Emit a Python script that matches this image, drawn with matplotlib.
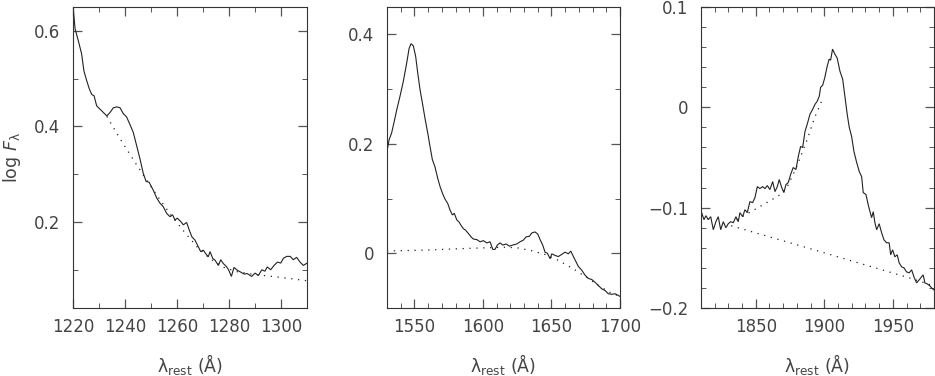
import matplotlib
matplotlib.use("Agg")
import matplotlib.pyplot as plt
from matplotlib.ticker import MultipleLocator, FuncFormatter

# ---------------- data: panel 1 (Ly-alpha / N V region) ----------------
wl1 = [1220.1, 1220.8, 1222.0, 1223.3, 1224.2, 1225.3, 1226.3, 1227.2, 1228.1, 1229.1,
       1230.4, 1231.7, 1233.0, 1234.2, 1235.5, 1236.8, 1238.1, 1239.3, 1240.6, 1241.9,
       1243.2, 1244.5, 1245.8, 1247.0, 1248.1, 1249.3, 1250.9, 1252.2, 1253.5, 1254.7,
       1256.0, 1257.3, 1258.3, 1259.2, 1260.1, 1261.4, 1262.4, 1263.7, 1264.7, 1265.7,
       1266.9, 1268.2, 1269.1, 1270.1, 1271.0, 1272.0, 1272.7, 1273.7, 1274.6, 1275.9,
       1276.8, 1277.8, 1279.1, 1279.9, 1280.9, 1281.9, 1283.2, 1284.5, 1285.8, 1287.0,
       1288.7, 1290.0, 1291.3, 1292.6, 1293.8, 1294.7, 1296.0, 1297.3, 1298.6, 1299.9,
       1300.9, 1302.2, 1303.5, 1304.7, 1306.0, 1307.3, 1308.6, 1310.0]
flux1 = [0.646, 0.604, 0.580, 0.552, 0.516, 0.495, 0.478, 0.467, 0.464, 0.443,
         0.436, 0.429, 0.422, 0.429, 0.439, 0.441, 0.439, 0.427, 0.420, 0.404,
         0.387, 0.359, 0.331, 0.302, 0.285, 0.283, 0.266, 0.250, 0.239, 0.232,
         0.218, 0.211, 0.215, 0.204, 0.208, 0.201, 0.194, 0.199, 0.183, 0.169,
         0.162, 0.148, 0.138, 0.141, 0.134, 0.127, 0.138, 0.124, 0.120, 0.109,
         0.121, 0.113, 0.106, 0.099, 0.086, 0.105, 0.099, 0.095, 0.091, 0.092,
         0.086, 0.093, 0.088, 0.100, 0.097, 0.106, 0.100, 0.109, 0.116, 0.114,
         0.124, 0.128, 0.128, 0.121, 0.126, 0.116, 0.109, 0.114]
cwl1 = [1233, 1238, 1243, 1248, 1253, 1258, 1263, 1268, 1273, 1278, 1283, 1290, 1300, 1310]
cont1 = [0.421, 0.375, 0.332, 0.290, 0.250, 0.212, 0.178, 0.146, 0.122, 0.105, 0.096,
         0.090, 0.084, 0.077]

# ---------------- data: panel 2 (C IV region) ----------------
wl2 = [1529.8, 1531.5, 1533.4, 1535.3, 1537.1, 1539.5, 1541.9, 1544.4, 1546.1, 1547.5,
       1549.2, 1550.9, 1552.4, 1554.1, 1555.8, 1557.7, 1559.7, 1561.4, 1563.1, 1565.0,
       1567.0, 1568.7, 1570.4, 1572.3, 1574.3, 1576.0, 1577.7, 1579.1, 1580.9, 1582.6,
       1584.0, 1585.7, 1587.4, 1589.4, 1591.3, 1593.0, 1595.5, 1597.9, 1600.3, 1602.8,
       1605.2, 1607.2, 1608.8, 1610.5, 1612.5, 1614.5, 1616.9, 1619.3, 1621.8, 1624.7,
       1627.1, 1629.5, 1631.5, 1633.9, 1635.6, 1638.0, 1640.0, 1641.7, 1643.6, 1645.3,
       1647.0, 1649.0, 1650.2, 1652.6, 1655.0, 1657.5, 1659.9, 1662.3, 1664.1, 1666.0,
       1668.0, 1669.6, 1672.1, 1674.5, 1676.9, 1679.4, 1681.8, 1684.2, 1686.7, 1689.1,
       1691.5, 1694.0, 1696.4, 1698.8, 1700.0]
flux2 = [0.183, 0.207, 0.220, 0.241, 0.262, 0.287, 0.314, 0.348, 0.374, 0.383,
         0.379, 0.360, 0.330, 0.299, 0.275, 0.247, 0.220, 0.195, 0.171, 0.158,
         0.137, 0.122, 0.110, 0.099, 0.091, 0.079, 0.070, 0.073, 0.061, 0.057,
         0.051, 0.045, 0.042, 0.036, 0.030, 0.026, 0.025, 0.021, 0.023, 0.019,
         0.021, 0.007, 0.007, 0.015, 0.019, 0.015, 0.017, 0.013, 0.015, 0.017,
         0.021, 0.024, 0.030, 0.031, 0.037, 0.039, 0.035, 0.025, 0.015, 0.002,
         0.000, -0.010, -0.001, -0.004, -0.006, -0.002, 0.002, -0.001, 0.004, -0.006,
         -0.016, -0.024, -0.031, -0.040, -0.046, -0.048, -0.053, -0.059, -0.065, -0.068,
         -0.074, -0.075, -0.074, -0.077, -0.079]
cwl2 = [1530, 1560, 1590, 1615, 1625, 1635, 1645, 1655, 1665, 1675, 1685, 1693, 1700]
cont2 = [0.004, 0.006, 0.009, 0.011, 0.010, 0.005, -0.002, -0.013, -0.027, -0.043,
         -0.060, -0.072, -0.079]

# ---------------- data: panel 3 (C III] region) ----------------
wl3 = [1810.5, 1812.2, 1813.6, 1815.3, 1817.1, 1819.0, 1820.9, 1822.6, 1824.4, 1826.3,
       1828.2, 1829.9, 1831.7, 1833.6, 1835.5, 1837.2, 1838.4, 1840.4, 1842.1, 1843.8,
       1845.7, 1847.7, 1849.4, 1851.1, 1853.0, 1855.0, 1856.7, 1858.4, 1860.3, 1862.3,
       1864.0, 1865.7, 1867.1, 1868.9, 1870.5, 1872.0, 1873.7, 1875.4, 1877.3, 1879.3,
       1881.0, 1882.7, 1884.2, 1885.9, 1887.5, 1889.5, 1891.5, 1893.2, 1894.8, 1896.3,
       1897.3, 1898.8, 1900.4, 1902.1, 1903.5, 1904.6, 1906.0, 1907.7, 1909.4, 1911.4,
       1913.4, 1915.0, 1916.7, 1918.2, 1919.9, 1921.6, 1923.6, 1925.5, 1927.2, 1928.4,
       1930.4, 1932.0, 1933.3, 1934.5, 1935.7, 1936.9, 1938.2, 1940.0, 1941.8, 1943.5,
       1945.4, 1947.3, 1948.4, 1949.8, 1951.5, 1953.2, 1954.6, 1956.4, 1958.1, 1960.0,
       1961.9, 1963.7, 1965.4, 1967.3, 1969.2, 1970.9, 1972.1, 1973.4, 1975.1, 1977.0,
       1979.0, 1980.0]
flux3 = [-0.105, -0.112, -0.108, -0.112, -0.109, -0.122, -0.114, -0.109, -0.122, -0.114,
         -0.120, -0.116, -0.114, -0.115, -0.109, -0.114, -0.105, -0.109, -0.102, -0.105,
         -0.094, -0.095, -0.090, -0.079, -0.081, -0.079, -0.081, -0.078, -0.082, -0.074,
         -0.084, -0.079, -0.072, -0.080, -0.085, -0.077, -0.075, -0.067, -0.060, -0.062,
         -0.049, -0.039, -0.040, -0.024, -0.017, -0.007, -0.002, 0.003, 0.006, 0.011,
         0.020, 0.022, 0.030, 0.041, 0.048, 0.047, 0.058, 0.053, 0.049, 0.036,
         0.028, 0.011, -0.007, -0.020, -0.029, -0.044, -0.055, -0.064, -0.069, -0.085,
         -0.087, -0.097, -0.104, -0.110, -0.104, -0.115, -0.122, -0.116, -0.125, -0.132,
         -0.135, -0.135, -0.147, -0.142, -0.149, -0.147, -0.155, -0.159, -0.160, -0.164,
         -0.165, -0.162, -0.169, -0.175, -0.172, -0.169, -0.167, -0.175, -0.176, -0.178,
         -0.181, -0.182]
cwl3 = [1832, 1890, 1962, 1980]
cont3 = [-0.118, -0.141, -0.170, -0.178]
bwl3 = [1836, 1853, 1868, 1873, 1879, 1887, 1893, 1898]
blend3 = [-0.112, -0.099, -0.087, -0.079, -0.062, -0.034, -0.010, 0.006]

xlims = [(1220, 1310), (1530, 1700), (1810, 1980)]
ylims = [(0.02, 0.65), (-0.1, 0.45), (-0.2, 0.1)]
xmajor = [20, 50, 50]
xminor = [10, 10, 10]
ymajor = [0.2, 0.2, 0.1]
yminor = [0.1, 0.1, 0.02]

# ---------------- figure ----------------
fig = plt.figure(figsize=(9.35, 3.76), dpi=100)
lefts = [0.0781, 0.4139, 0.7497]
widths = [0.2503, 0.2492, 0.2492]
bottom, height = 0.1809, 0.8005

ink = "#222222"
txt = "#444444"
dot_style = (0, (1, 4.5))


def fmt(v, pos):
    if abs(v) < 1e-9:
        return "0"
    s = "%g" % round(v, 3)
    return s.replace("-", "\u2212")


datasets = [
    (wl1, flux1, [(cwl1, cont1)]),
    (wl2, flux2, [(cwl2, cont2)]),
    (wl3, flux3, [(cwl3, cont3), (bwl3, blend3)]),
]

for i, (wl, fl, dotted) in enumerate(datasets):
    ax = fig.add_axes([lefts[i], bottom, widths[i], height])
    ax.plot(wl, fl, color=ink, lw=0.8, solid_joinstyle="miter")
    for cw, cv in dotted:
        ax.plot(cw, cv, color=ink, lw=0.9, linestyle=dot_style)
    ax.set_xlim(*xlims[i])
    ax.set_ylim(*ylims[i])
    ax.xaxis.set_major_locator(MultipleLocator(xmajor[i]))
    ax.xaxis.set_minor_locator(MultipleLocator(xminor[i]))
    ax.yaxis.set_major_locator(MultipleLocator(ymajor[i]))
    ax.yaxis.set_minor_locator(MultipleLocator(yminor[i]))
    ax.yaxis.set_major_formatter(FuncFormatter(fmt))
    ax.tick_params(which="both", direction="in", top=True, right=True,
                   color="#555555", labelcolor=txt, labelsize=12)
    ax.tick_params(axis="x", which="major", length=6.5, width=0.9, pad=7)
    ax.tick_params(axis="y", which="major", length=6.5, width=0.9, pad=9)
    ax.tick_params(which="minor", length=3.3, width=0.7)
    for sp in ax.spines.values():
        sp.set_color("#333333")
        sp.set_linewidth(0.8)
    ax.set_xlabel(r"$\mathregular{\lambda_{rest}}$ ($\mathregular{\AA}$)",
                  fontsize=12.5, color=txt, labelpad=12)
    if i == 0:
        ax.set_ylabel(r"log $F_{\mathregular{\lambda}}$", fontsize=12.5,
                      color=txt, labelpad=8)

fig.savefig("out.png", dpi=100)
